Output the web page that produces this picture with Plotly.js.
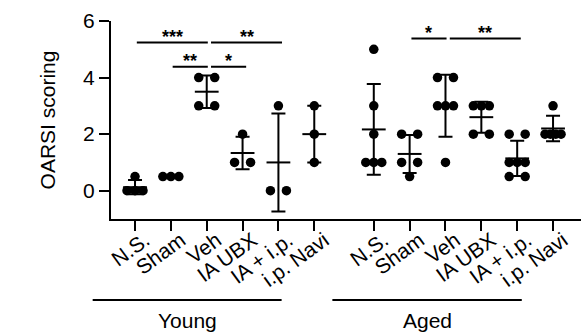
<!DOCTYPE html>
<html>
<head>
<meta charset="utf-8">
<script src="https://cdn.plot.ly/plotly-3.0.1.min.js"></script>
<style>
html, body { margin: 0; padding: 0; background: #fff; }
#chart { width: 581px; height: 333px; }
</style>
</head>
<body>
<div id="chart"></div>
<script>
// ---- data ----
const categories = ["N.S.", "Sham", "Veh", "IA UBX", "IA + i.p.", "i.p. Navi"];
const groupNames = ["Young", "Aged"];
const youngValues = [
  [0, 0, 0, 0.5],
  [0.5, 0.5, 0.5],
  [4, 4, 3, 3],
  [2, 1, 1],
  [3, 0, 0],
  [3, 2, 1]
];
const agedValues = [
  [5, 3, 2, 1, 1, 1],
  [2, 2, 1, 1, 0.5],
  [4, 4, 3, 3, 3, 1],
  [3, 3, 3, 2, 2],
  [2, 2, 1, 1, 1, 0.5, 0.5],
  [3, 2, 2, 2, 2]
];
const yTickValues = [0, 2, 4, 6];
// significance comparisons: group index, category from, category to, label
const comparisons = [
  { group: 0, from: 0, to: 2, label: "***" },
  { group: 0, from: 2, to: 4, label: "**" },
  { group: 0, from: 1, to: 2, label: "**" },
  { group: 0, from: 2, to: 3, label: "*" },
  { group: 1, from: 1, to: 2, label: "*" },
  { group: 1, from: 2, to: 4, label: "**" }
];
// ---- layout settings ----
const comparisonHeights = [5.24, 5.24, 4.38, 4.38, 5.38, 5.38];
const groupOffsets = [0, 6.66];
const xRange = [-0.67, 12.44];
const pxPerUnit = 470 / (xRange[1] - xRange[0]);
const FONT = "Liberation Sans, Arial, sans-serif";
const FS = 21;

function mean(a) { return a.reduce((s, v) => s + v, 0) / a.length; }
function sd(a) {
  const m = mean(a);
  return Math.sqrt(a.reduce((s, v) => s + (v - m) * (v - m), 0) / (a.length - 1));
}
// spread identical values horizontally (scatter dot plot)
function spread(values, center) {
  const xs = [];
  const counts = {};
  values.forEach(v => { counts[v] = (counts[v] || 0) + 1; });
  const seen = {};
  values.forEach(v => {
    const n = counts[v];
    const i = seen[v] || 0;
    seen[v] = i + 1;
    const half = 8 / pxPerUnit;
    const off = n === 1 ? 0 : -half + (2 * half) * i / (n - 1);
    xs.push(center + off);
  });
  return xs;
}

const allGroups = [youngValues, agedValues];
const traces = [];
const tickvals = [];
const ticktext = [];
allGroups.forEach((grp, gi) => {
  const px = [], py = [], mx = [], my = [], me = [];
  grp.forEach((vals, ci) => {
    const c = ci + groupOffsets[gi];
    tickvals.push(c);
    ticktext.push(categories[ci]);
    spread(vals, c).forEach((x, k) => { px.push(x); py.push(vals[k]); });
    mx.push(c); my.push(mean(vals)); me.push(sd(vals));
  });
  traces.push({
    type: "scatter", mode: "markers", x: px, y: py, name: groupNames[gi],
    marker: { color: "black", size: 9.5, symbol: "circle" },
    cliponaxis: false, hoverinfo: "skip", showlegend: false
  });
  traces.push({
    type: "scatter", mode: "markers", x: mx, y: my, name: groupNames[gi] + " mean",
    marker: { symbol: "line-ew", size: 17, color: "black", line: { color: "black", width: 2 } },
    error_y: { type: "data", array: me, visible: true, color: "black", thickness: 2, width: 7 },
    cliponaxis: false, hoverinfo: "skip", showlegend: false
  });
});

const shapes = [];
const annotations = [];
comparisons.forEach((c, i) => {
  const off = groupOffsets[c.group];
  const x0 = off + c.from + (c.from === 2 ? 0.12 : 0.05);
  const x1 = off + c.to + (c.to === 2 ? 0.03 : 0.1);
  const y = comparisonHeights[i];
  shapes.push({ type: "line", xref: "x", yref: "y", x0: x0, x1: x1, y0: y, y1: y,
    line: { color: "black", width: 2 } });
  annotations.push({ xref: "x", yref: "y", x: (x0 + x1) / 2, y: y, text: "<b>" + c.label + "</b>",
    showarrow: false, yanchor: "bottom", yshift: -6,
    font: { family: FONT, size: 18, color: "black" } });
});
// group lines and labels (paper coords)
const groupSpans = [[-0.039, 0.363], [0.471, 0.874]];
groupSpans.forEach((s, gi) => {
  shapes.push({ type: "line", xref: "paper", yref: "paper", x0: s[0], x1: s[1], y0: -0.409, y1: -0.409,
    line: { color: "black", width: 2 } });
  annotations.push({ xref: "paper", yref: "paper", x: (s[0] + s[1]) / 2, y: -0.515, text: groupNames[gi],
    showarrow: false, xanchor: "center", yanchor: "middle",
    font: { family: FONT, size: FS, color: "black" } });
});

const layout = {
  width: 581, height: 333,
  margin: { l: 111, r: 0, t: 21, b: 114, pad: 0 },
  paper_bgcolor: "white", plot_bgcolor: "white",
  showlegend: false,
  font: { family: FONT, color: "black" },
  xaxis: {
    range: xRange, tickvals: tickvals, ticktext: ticktext, tickangle: -36,
    ticks: "outside", ticklen: 10, tickwidth: 2, tickcolor: "black",
    ticklabelstandoff: -11, ticklabelshift: 10,
    showline: true, linewidth: 2, linecolor: "black",
    showgrid: false, zeroline: false,
    tickfont: { family: FONT, size: FS, color: "black" }
  },
  yaxis: {
    range: [-1, 6], tickvals: yTickValues,
    ticks: "outside", ticklen: 10, tickwidth: 2, tickcolor: "black",
    showline: true, linewidth: 2, linecolor: "black",
    showgrid: false, zeroline: false,
    tickfont: { family: FONT, size: FS, color: "black" },
    title: { text: "OARSI scoring", font: { family: FONT, size: FS, color: "black" }, standoff: 22 }
  },
  shapes: shapes,
  annotations: annotations
};

Plotly.newPlot("chart", traces, layout, { staticPlot: true, displayModeBar: false });
</script>
</body>
</html>
